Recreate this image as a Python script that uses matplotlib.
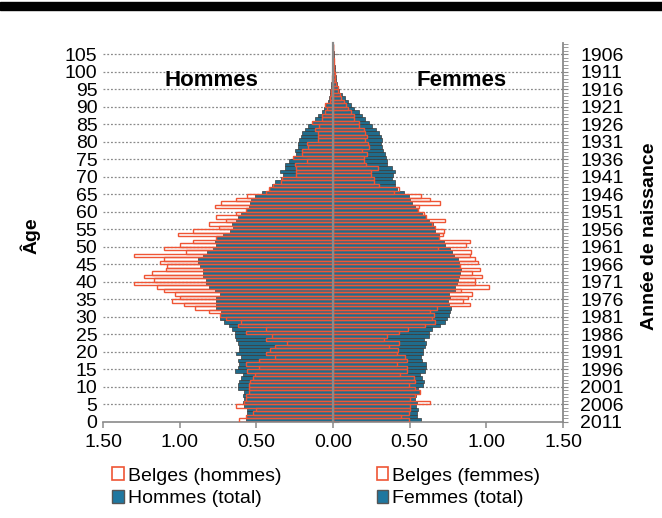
import numpy as np
import matplotlib.pyplot as plt
from matplotlib.patches import Patch, Rectangle
from matplotlib.ticker import FuncFormatter

plt.rcParams["font.family"] = ["Liberation Sans", "DejaVu Sans"]

# ── données (% de la population, par âge 0..107) ─────────────────────
ages = np.arange(0, 108)

hommes_total = [
    0.57, 0.57, 0.56, 0.56, 0.58, 0.59, 0.58, 0.59, 0.58, 0.62,
    0.62, 0.61, 0.60, 0.59, 0.64, 0.62, 0.61, 0.62, 0.60, 0.63,
    0.61, 0.61, 0.62, 0.63, 0.64, 0.64, 0.66, 0.68, 0.71, 0.74,
    0.74, 0.73, 0.76, 0.76, 0.76, 0.76, 0.74, 0.77, 0.81, 0.83,
    0.83, 0.85, 0.85, 0.85, 0.87, 0.88, 0.88, 0.85, 0.82, 0.78,
    0.76, 0.77, 0.76, 0.72, 0.67, 0.65, 0.66, 0.63, 0.62, 0.60,
    0.57, 0.545, 0.54, 0.535, 0.51, 0.465, 0.41, 0.40, 0.38, 0.34,
    0.325, 0.345, 0.31, 0.31, 0.29, 0.26, 0.24, 0.25, 0.23, 0.23,
    0.22, 0.21, 0.20, 0.18, 0.16, 0.135, 0.115, 0.095, 0.075, 0.06,
    0.045, 0.035, 0.028, 0.022, 0.017, 0.013, 0.010, 0.008, 0.006, 0.005,
    0.004, 0.003, 0.003, 0.002, 0.002, 0.001, 0.001, 0.001,
]

belges_hommes = [
    0.61, 0.57, 0.52, 0.50, 0.63, 0.58, 0.57, 0.57, 0.55, 0.55,
    0.55, 0.54, 0.52, 0.51, 0.56, 0.48, 0.57, 0.48, 0.38, 0.44,
    0.41, 0.38, 0.30, 0.44, 0.40, 0.57, 0.44, 0.62, 0.60, 0.70,
    0.74, 0.81, 0.90, 0.97, 1.05, 1.00, 1.03, 1.10, 1.15, 1.30,
    1.17, 1.23, 1.18, 1.09, 1.08, 1.13, 1.10, 1.30, 0.96, 1.10,
    1.00, 0.91, 0.76, 1.01, 0.91, 0.745, 0.81, 0.70, 0.76, 0.63,
    0.57, 0.77, 0.73, 0.63, 0.56, 0.44, 0.42, 0.39, 0.34, 0.33,
    0.24, 0.24, 0.24, 0.25, 0.17, 0.26, 0.20, 0.205, 0.16, 0.17,
    0.10, 0.10, 0.10, 0.12, 0.09, 0.135, 0.07, 0.07, 0.055, 0.04,
    0.05, 0.02, 0.018, 0.014, 0.01, 0.008, 0.006, 0.005, 0.004, 0.003,
    0.002, 0.002, 0.001, 0.001, 0.001, 0.001, 0.0, 0.0,
]

femmes_total = [
    0.576, 0.548, 0.548, 0.554, 0.541, 0.55, 0.537, 0.54, 0.558, 0.554,
    0.584, 0.591, 0.580, 0.569, 0.602, 0.606, 0.606, 0.580, 0.576, 0.584,
    0.584, 0.602, 0.606, 0.591, 0.623, 0.628, 0.645, 0.70, 0.732, 0.742,
    0.758, 0.764, 0.771, 0.758, 0.753, 0.764, 0.758, 0.797, 0.797, 0.807,
    0.818, 0.823, 0.829, 0.835, 0.829, 0.823, 0.818, 0.786, 0.779, 0.764,
    0.732, 0.721, 0.69, 0.69, 0.668, 0.662, 0.649, 0.623, 0.602, 0.580,
    0.548, 0.537, 0.515, 0.504, 0.494, 0.461, 0.418, 0.407, 0.407, 0.385,
    0.390, 0.403, 0.385, 0.353, 0.353, 0.346, 0.338, 0.325, 0.32, 0.31,
    0.32, 0.31, 0.30, 0.28, 0.255, 0.235, 0.21, 0.19, 0.17, 0.14,
    0.115, 0.095, 0.075, 0.058, 0.042, 0.03, 0.023, 0.02, 0.017, 0.014,
    0.012, 0.01, 0.008, 0.006, 0.005, 0.004, 0.003, 0.002,
]

belges_femmes = [
    0.494, 0.445, 0.494, 0.504, 0.504, 0.634, 0.504, 0.532, 0.569, 0.532,
    0.494, 0.537, 0.526, 0.440, 0.483, 0.483, 0.418, 0.483, 0.468, 0.418,
    0.422, 0.364, 0.429, 0.331, 0.353, 0.429, 0.489, 0.602, 0.667, 0.645,
    0.656, 0.634, 0.677, 0.894, 0.846, 0.883, 0.909, 0.835, 1.019, 0.926,
    0.926, 0.970, 0.905, 0.959, 0.829, 0.944, 0.926, 0.894, 0.900, 0.688,
    0.868, 0.894, 0.69, 0.72, 0.723, 0.662, 0.645, 0.732, 0.606, 0.591,
    0.554, 0.558, 0.699, 0.634, 0.576, 0.396, 0.433, 0.303, 0.266, 0.266,
    0.245, 0.245, 0.294, 0.212, 0.201, 0.201, 0.223, 0.19, 0.234, 0.23,
    0.208, 0.22, 0.21, 0.20, 0.17, 0.17, 0.14, 0.14, 0.12, 0.10,
    0.085, 0.07, 0.05, 0.045, 0.035, 0.035, 0.02, 0.015, 0.012, 0.01,
    0.008, 0.006, 0.005, 0.004, 0.003, 0.002, 0.001, 0.001,
]

annee_ref = 2011
x_ticks = [-1.5, -1.0, -0.5, 0.0, 0.5, 1.0, 1.5]
age_ticks = np.arange(0, 106, 5)

BLUE = "#1f6c8c"
BLUE_EDGE = "#3a3a3a"
RED = "#ef5535"
GREY = "#8a8a8a"

fig = plt.figure(figsize=(6.62, 5.18), dpi=100)
fig.patches.append(Rectangle((0, 1 - 10 / 518), 1, 8 / 518,
                             transform=fig.transFigure, color="black"))
pos = [103 / 662, 1 - 421.7 / 518, 460 / 662, (421.7 - 43) / 518]
ylim = (0, 108.2)

# grille pointillée (en arrière-plan)
ax_bg = fig.add_axes(pos)
ax_bg.set_xlim(-1.5, 1.5)
ax_bg.set_ylim(*ylim)
ax_bg.set_yticks(age_ticks[1:])
ax_bg.grid(axis="y", color=GREY, linestyle=(0, (1.5, 1.5)), linewidth=0.9)
ax_bg.tick_params(left=False, bottom=False, labelleft=False, labelbottom=False)
for s in ax_bg.spines.values():
    s.set_visible(False)

# pyramide
ax = fig.add_axes(pos, facecolor="none")
ax.barh(ages + 0.5, -np.array(hommes_total), height=1.0, color=BLUE,
        edgecolor=BLUE_EDGE, linewidth=0.5, zorder=2)
ax.barh(ages + 0.5, femmes_total, height=1.0, color=BLUE,
        edgecolor=BLUE_EDGE, linewidth=0.5, zorder=2)
ax.barh(ages + 0.5, -np.array(belges_hommes), height=1.0, facecolor="none",
        edgecolor=RED, linewidth=1.0, zorder=3)
ax.barh(ages + 0.5, belges_femmes, height=1.0, facecolor="none",
        edgecolor=RED, linewidth=1.0, zorder=3)

ax.set_xlim(-1.5, 1.5)
ax.set_ylim(*ylim)
ax.set_xticks(x_ticks)
ax.xaxis.set_major_formatter(FuncFormatter(lambda v, p: f"{abs(v):.2f}"))
ax.set_yticks(age_ticks)
ax.spines["left"].set_position(("data", 0))
ax.spines["left"].set_color(GREY)
ax.spines["left"].set_linewidth(1.6)
ax.spines["left"].set_zorder(5)
ax.spines["bottom"].set_color(GREY)
ax.spines["bottom"].set_linewidth(1.2)
ax.spines["top"].set_visible(False)
ax.spines["right"].set_visible(False)
ax.tick_params(axis="y", direction="in", length=4, color=GREY, labelleft=False)
ax.tick_params(axis="x", direction="out", length=4.5, width=1.1, color=GREY,
               labelsize=14, pad=4)

ax.text(-0.79, 97.6, "Hommes", ha="center", va="center", fontsize=16,
        fontweight="bold")
ax.text(0.84, 97.6, "Femmes", ha="center", va="center", fontsize=16,
        fontweight="bold")

# axe des âges (étiquettes à gauche)
ax_age = ax.secondary_yaxis("left")
ax_age.set_yticks(age_ticks)
ax_age.spines["left"].set_visible(False)
ax_age.tick_params(length=0, labelsize=14, pad=4)

# axe des années de naissance (à droite)
ax_an = ax.secondary_yaxis("right", functions=(lambda a: annee_ref - a,
                                               lambda y: annee_ref - y))
ax_an.set_yticks(annee_ref - age_ticks)
ax_an.set_yticks(np.arange(annee_ref - 108, annee_ref + 1), minor=True)
ax_an.spines["right"].set_color(GREY)
ax_an.spines["right"].set_linewidth(1.3)
ax_an.tick_params(which="both", direction="out", length=3.5, color=GREY,
                  labelsize=14, pad=9)

fig.text(30 / 662, 1 - 236 / 518, "Âge", rotation=90, ha="center",
         va="center", fontsize=14, fontweight="bold")
fig.text(650 / 662, 1 - 236 / 518, "Année de naissance", rotation=90,
         ha="center", va="center", fontsize=14, fontweight="bold")

handles = [
    Patch(facecolor="white", edgecolor=RED, linewidth=1.2),
    Patch(facecolor="#1f77a0", edgecolor="#555555", linewidth=1.0),
    Patch(facecolor="white", edgecolor=RED, linewidth=1.2),
    Patch(facecolor="#1f77a0", edgecolor="#555555", linewidth=1.0),
]
labels = ["Belges (hommes)", "Hommes (total)", "Belges (femmes)", "Femmes (total)"]
fig.legend(handles, labels, ncol=2, loc="center", bbox_to_anchor=(0.493, 0.059),
           frameon=False, fontsize=14, handlelength=0.6, handleheight=0.6,
           handletextpad=0.2, columnspacing=4.9, labelspacing=0.3,
           borderpad=0)

fig.savefig("out.png", dpi=100)
